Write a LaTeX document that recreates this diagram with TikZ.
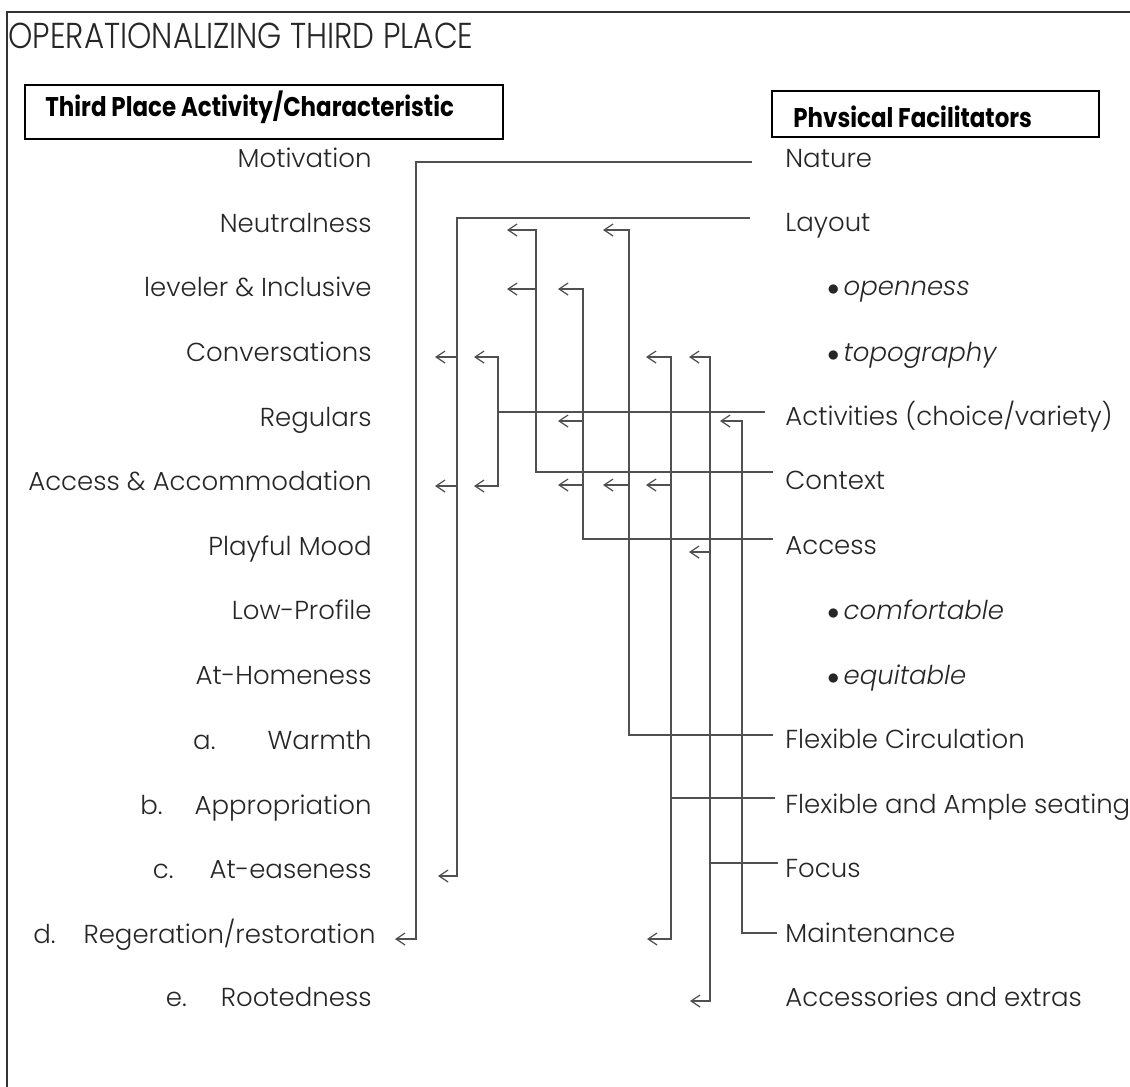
\documentclass[tikz,border=0pt]{standalone}
\usepackage{fontspec}
\setmainfont{Poppins}[UprightFont=* Light, ItalicFont=* Light Italic, BoldFont=* Bold]
\newfontfamily\hdrfont{Poppins}[UprightFont=* Bold, FakeStretch=0.85]
\newfontfamily\titlefont{Poppins}[UprightFont=* Light, FakeStretch=0.86]
\usetikzlibrary{arrows.meta}
\definecolor{ink}{HTML}{262626}
\definecolor{wirec}{HTML}{505050}
\begin{document}
\begin{tikzpicture}[x=0.5pt,y=-0.5pt,
  lbl/.style={font=\fontsize{13}{15}\selectfont, text=ink, inner sep=0pt},
  lft/.style={lbl, anchor=mid east},
  rgt/.style={lbl, anchor=mid west},
  sub/.style={lbl, anchor=mid west, font=\fontsize{13}{15}\selectfont\itshape},
  hdrbox/.style={draw=black, line width=1.1pt},
  hdrtxt/.style={font=\hdrfont\fontsize{13.5}{15}\selectfont, text=black, inner sep=0pt, anchor=base west},
  wire/.style={draw=wirec, line width=0.6pt},
  arr/.style={wire, -{Straight Barb[length=4.5pt,width=6pt]}}
]
\useasboundingbox (0,0) rectangle (1130,1087);
% frame (top and left edges only)
\draw[black!80, line width=0.9pt] (1130,12) -- (7,12) -- (7,1087);
% title
\node[anchor=base west, inner sep=0pt, font=\titlefont\fontsize{18}{20}\selectfont, text=ink] (title) at (8,48) {OPERATIONALIZING THIRD PLACE};
% headers
\draw[hdrbox] (25,85) rectangle (503,139);
\node[hdrtxt] (hL) at (45,116) {Third Place Activity/Characteristic};
\draw[hdrbox] (772,91) rectangle (1099,137);
\node[hdrtxt] (hR) at (793,127) {Phvsical Facilitators};
% left labels
\node[lft] (motivation) at (372,162) {Motivation};
\node[lft] (neutral) at (372,227) {Neutralness};
\node[lft] (leveler) at (372,291) {leveler \& Inclusive};
\node[lft] (conv) at (372,356) {Conversations};
\node[lft] (regulars) at (372,421) {Regulars};
\node[lft] (accacc) at (372,485) {Access \& Accommodation};
\node[lft] (playful) at (372,550) {Playful Mood};
\node[lft] (lowprof) at (372,614) {Low-Profile};
\node[lft] (athome) at (372,679) {At-Homeness};
\node[lft] (warmth) at (372,744) {a.\hspace{26pt}Warmth};
\node[lft] (approp) at (372,809) {b.\hspace{16pt}Appropriation};
\node[lft] (atease) at (372,873) {c.\hspace{18pt}At-easeness};
\node[lft] (regen) at (376,938) {d.\hspace{14pt}Regeration/restoration};
\node[lft] (rooted) at (372,1001) {e.\hspace{17pt}Rootedness};
% right labels
\node[rgt] (nature) at (785,162) {Nature};
\node[rgt] (layout) at (785,226) {Layout};
\node[sub] (open) at (827,290) {$\bullet$\,openness};
\node[sub] (topo) at (827,356) {$\bullet$\,topography};
\node[rgt] (activ) at (785,420) {Activities (choice/variety)};
\node[rgt] (context) at (785,484) {Context};
\node[rgt] (access) at (785,549) {Access};
\node[sub] (comf) at (827,614) {$\bullet$\,comfortable};
\node[sub] (equit) at (827,679) {$\bullet$\,equitable};
\node[rgt] (flexcirc) at (785,743) {Flexible Circulation};
\node[rgt] (flexseat) at (785,808) {Flexible and Ample seating};
\node[rgt] (focus) at (785,872) {Focus};
\node[rgt] (maint) at (785,937) {Maintenance};
\node[rgt] (accext) at (785,1001) {Accessories and extras};
% connector start points beside the facilitators
\coordinate (cNature) at (752,162);
\coordinate (cLayout) at (750,218);
\coordinate (cActiv) at (765,412);
\coordinate (cContext) at (773,472);
\coordinate (cAccess) at (773,539);
\coordinate (cFlexCirc) at (773,735);
\coordinate (cFlexSeat) at (775,798);
\coordinate (cFocus) at (778,863);
\coordinate (cMaint) at (777,933);
% Nature
\draw[arr] (cNature) -| (416,939) -- (395,939);
% Layout
\draw[arr] (cLayout) -| (457,876) -- (438,876);
\draw[arr] (457,357) -- (435,357);
\draw[arr] (457,486) -- (435,486);
% Activities
\draw[wire] (cActiv) -- (498,412);
\draw[arr] (498,412) |- (474,357);
\draw[arr] (498,412) |- (474,486);
% Context
\draw[arr] (cContext) -| (536,230) -- (507,230);
\draw[arr] (536,289) -- (507,289);
% Access
\draw[arr] (cAccess) -| (583,289) -- (558,289);
\draw[arr] (583,421) -- (558,421);
\draw[arr] (583,485) -- (558,485);
% Flexible Circulation
\draw[arr] (cFlexCirc) -| (629,230) -- (603,230);
\draw[arr] (629,485) -- (603,485);
% Flexible and Ample seating
\draw[arr] (cFlexSeat) -| (671,357) -- (646,357);
\draw[arr] (671,798) |- (647,939);
\draw[arr] (671,485) -- (646,485);
% Focus
\draw[arr] (cFocus) -| (710,357) -- (689,357);
\draw[arr] (710,863) |- (690,1001);
\draw[arr] (710,552) -- (689,552);
% Maintenance
\draw[arr] (cMaint) -| (742,421) -- (720,421);
\end{tikzpicture}
\end{document}
